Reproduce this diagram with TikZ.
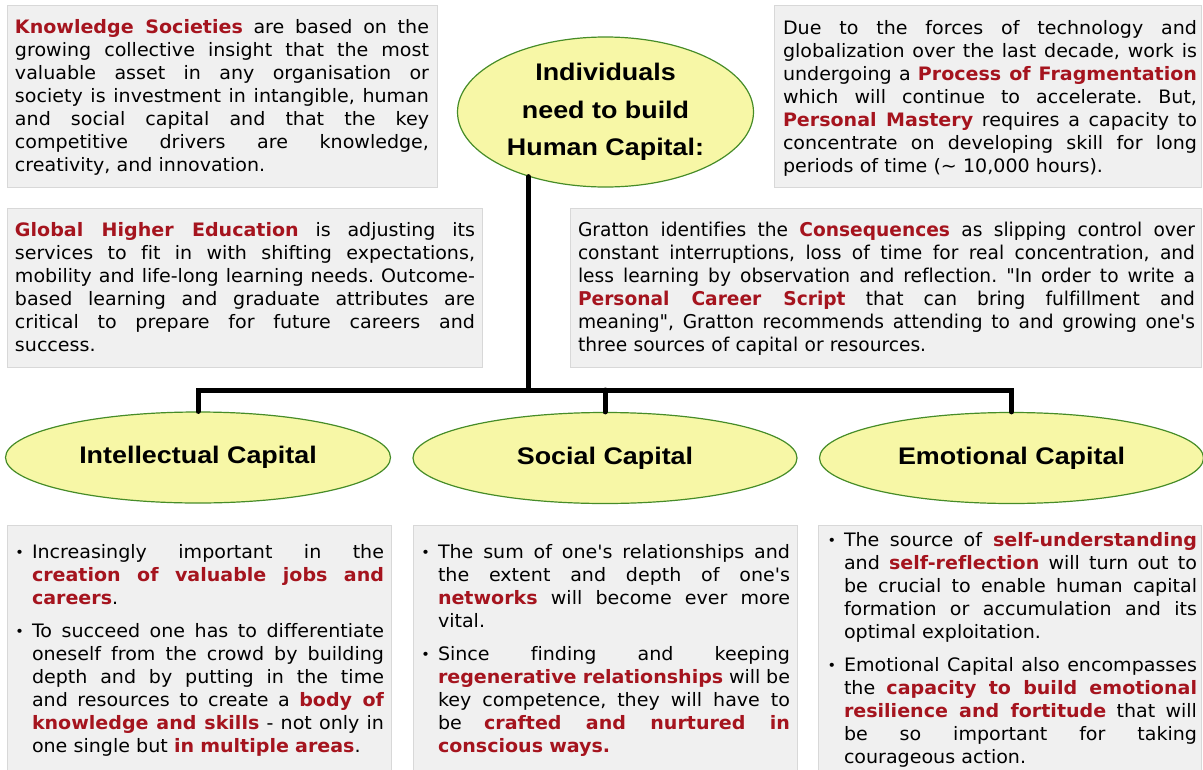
\documentclass[tikz,border=0pt]{standalone}
\usepackage{fontspec}
\newfontfamily\bodyfont[FakeStretch=1.03, Ligatures=NoCommon]{DejaVu Sans}
\newfontfamily\narrowfont[FakeStretch=0.98, Ligatures=NoCommon]{DejaVu Sans}
\newfontfamily\headfont[FakeStretch=1.12]{Liberation Sans}
\usetikzlibrary{shapes.geometric}

\definecolor{keyred}{RGB}{165,20,30}
\definecolor{panelfill}{RGB}{240,240,240}
\definecolor{panelline}{RGB}{216,216,216}
\definecolor{capfill}{RGB}{247,247,166}
\definecolor{capline}{RGB}{70,140,40}

% highlighted key phrase
\newcommand\hl[1]{\textbf{\color{keyred}#1}}
% one fully justified line (font spaces restored so they can stretch)
\newcommand\jl[1]{\hbox to \hsize{\spaceskip=0pt\xspaceskip=0pt #1}\par}
% fixes the height of the first line so that north = baseline - 17pt
\newcommand\firststrut{\rule{0pt}{17pt}}
% hanging bullet
\newcommand\itemdot{\llap{{\fontsize{14}{14}\selectfont\raisebox{0.5pt}{•}}\hspace{8pt}}}

\tikzset{
  panel/.style={fill=panelfill, draw=panelline, line width=0.8pt},
  txt/.style={anchor=north west, inner sep=0pt, outer sep=0pt, align=left,
    font=\bodyfont\fontsize{18.5}{23}\selectfont\frenchspacing},
  capital/.style={ellipse, draw=capline, fill=capfill, line width=1.2pt,
    inner sep=0pt, font=\headfont\bfseries\fontsize{24}{37.5}\selectfont, align=center},
  conn/.style={line width=5pt, line cap=round, black},
}

\begin{document}
\begin{tikzpicture}[x=1pt, y=-1pt]
\useasboundingbox (0,0) rectangle (1203,769);

% ---------- upper text panels ----------
\draw[panel] (7,5) rectangle (437,187);
\node[txt, text width=414pt] (societies) at (15,16) {\parindent0pt
\jl{\firststrut\hl{Knowledge Societies} are based on the}
\jl{growing collective insight that the most}
\jl{valuable asset in any organisation or}
\jl{society is investment in intangible, human}
\jl{and social capital and that the key}
\jl{competitive drivers are knowledge,}
creativity, and innovation.\par};

\draw[panel] (774,5) rectangle (1201,187);
\node[txt, text width=414pt] (fragment) at (783,17) {\parindent0pt
\jl{\firststrut Due to the forces of technology and}
\jl{globalization over the last decade, work is}
\jl{undergoing a \hl{Process of Fragmentation}}
\jl{which will continue to accelerate. But,}
\jl{\hl{Personal Mastery} requires a capacity to}
\jl{concentrate on developing skill for long}
periods of time (\textasciitilde{} 10,000 hours).\par};

\draw[panel] (7,208) rectangle (482,367);
\node[txt, text width=460pt] (education) at (15,219) {\parindent0pt
\jl{\firststrut\hl{Global Higher Education} is adjusting its}
\jl{services to fit in with shifting expectations,}
\jl{mobility and life-long learning needs. Outcome-}
\jl{based learning and graduate attributes are}
\jl{critical to prepare for future careers and}
success.\par};

\draw[panel] (570,208) rectangle (1201,367);
\node[txt, text width=617pt, font=\narrowfont\fontsize{19}{23}\selectfont\frenchspacing] (gratton) at (578,219) {\parindent0pt
\jl{\firststrut Gratton identifies the \hl{Consequences} as slipping control over}
\jl{constant interruptions, loss of time for real concentration, and}
\jl{less learning by observation and reflection. "In order to write a}
\jl{\hl{Personal Career Script} that can bring fulfillment and}
\jl{meaning", Gratton recommends attending to and growing one's}
three sources of capital or resources.\par};

% ---------- capital ellipses ----------
\node[capital, minimum width=296pt, minimum height=150pt] (human) at (605.5,112)
  {Individuals\\need to build\\Human Capital:};
\node[capital, minimum width=385pt, minimum height=91pt] (intel) at (198,457.5)
  {Intellectual Capital};
\node[capital, minimum width=384pt, minimum height=91pt] (social) at (605,458)
  {Social Capital};
\node[capital, minimum width=384pt, minimum height=91pt] (emo) at (1011.5,458)
  {Emotional Capital};

% ---------- connectors ----------
\coordinate (bus) at (0,390);
\draw[conn] (human.220) -- (human.220 |- bus);
\draw[conn] (intel.north) -- (intel.north |- bus) -- (emo.north |- bus) -- (emo.north);
\draw[conn] (social.north |- bus) -- (social.north);

% ---------- lower text panels ----------
\draw[panel] (7,525) rectangle (391,772);
\node[txt, text width=352pt] (inteltext) at (32,541) {\parindent0pt
\jl{\itemdot\firststrut Increasingly important in the}
\jl{\hl{creation of valuable jobs and}}
\hl{careers}.\par
\vspace{10pt}
\jl{\itemdot To succeed one has to differentiate}
\jl{oneself from the crowd by building}
\jl{depth and by putting in the time}
\jl{and resources to create a \hl{body of}}
\jl{\hl{knowledge and skills} - not only in}
one single but \hl{in multiple areas}.\par};

\draw[panel] (413,525) rectangle (797,772);
\node[txt, text width=352pt] (socialtext) at (438,541) {\parindent0pt
\jl{\itemdot\firststrut The sum of one's relationships and}
\jl{the extent and depth of one's}
\jl{\hl{networks} will become ever more}
vital.\par
\vspace{10pt}
\jl{\itemdot Since finding and keeping}
\jl{\hl{regenerative relationships} will be}
\jl{key competence, they will have to}
\jl{be \hl{crafted and nurtured in}}
\hl{conscious ways.}\par};

\draw[panel] (818,525) rectangle (1201,772);
\node[txt, text width=353pt] (emotext) at (844,529) {\parindent0pt
\jl{\itemdot\firststrut The source of \hl{self-understanding}}
\jl{and \hl{self-reflection} will turn out to}
\jl{be crucial to enable human capital}
\jl{formation or accumulation and its}
optimal exploitation.\par
\vspace{10pt}
\jl{\itemdot Emotional Capital also encompasses}
\jl{the \hl{capacity to build emotional}}
\jl{\hl{resilience and fortitude} that will}
\jl{be so important for taking}
courageous action.\par};
\end{tikzpicture}
\end{document}
